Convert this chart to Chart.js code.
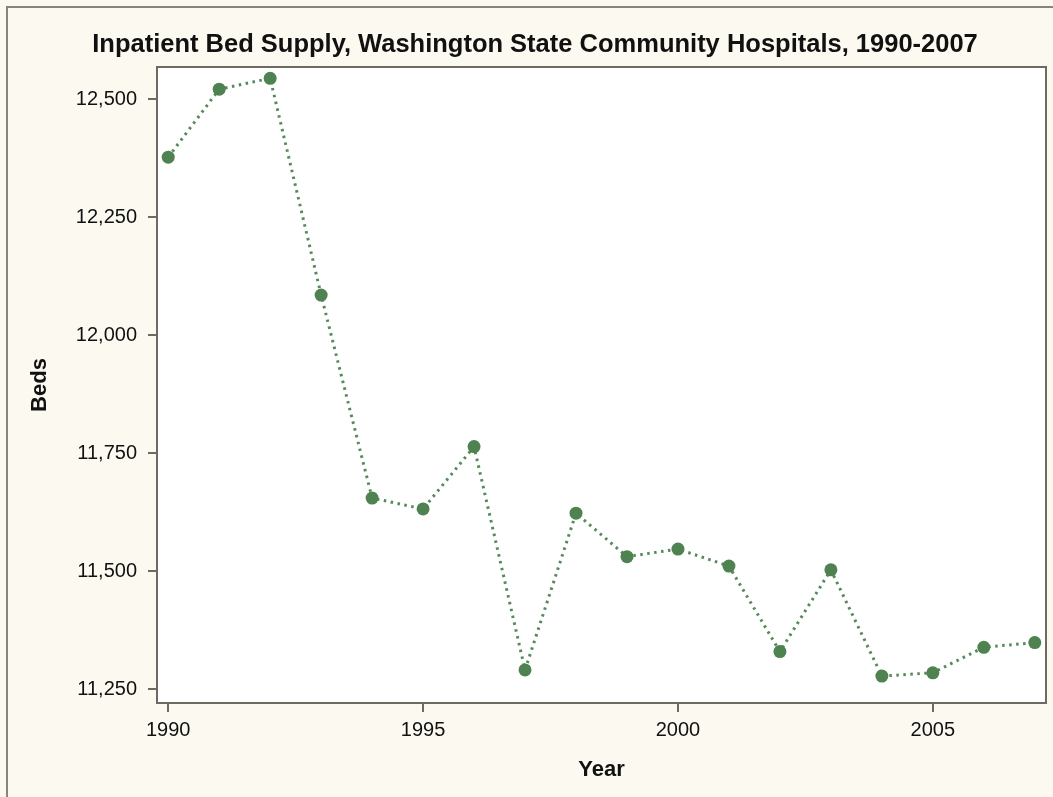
<!DOCTYPE html>
<html>
<head>
<meta charset="utf-8">
<title>Inpatient Bed Supply</title>
<script src="https://cdn.jsdelivr.net/npm/chart.js@4.4.1/dist/chart.umd.min.js"></script>
<style>
    html, body { margin: 0; padding: 0; overflow: hidden; background: #fcf9f1; }
    #frame { position: absolute; left: 6px; top: 6px; width: 1100px; height: 900px; border: 2px solid #87847c; }
    #wrap { position: absolute; left: 0; top: 0; width: 1053px; height: 797px; }
</style>
</head>
<body>
<div id="frame"></div>
<div id="wrap"><canvas id="myChart" width="1053" height="797"></canvas></div>
<script>
// data
const years = [1990, 1991, 1992, 1993, 1994, 1995, 1996, 1997, 1998, 1999, 2000, 2001, 2002, 2003, 2004, 2005, 2006, 2007];
const beds = [12377, 12521, 12544, 12085, 11655, 11632, 11764, 11291, 11623, 11531, 11547, 11511, 11330, 11503, 11278, 11285, 11339, 11349];
const yearTicks = [1990, 1995, 2000, 2005];
const bedTicks = [11250, 11500, 11750, 12000, 12250, 12500];

const axisColor = '#6d6a62';
const textColor = '#111111';

// white plot area with a box round it
const plotBox = {
    id: 'plotBox',
    beforeDatasetsDraw: function(chart) {
        const {ctx, chartArea: a} = chart;
        ctx.save();
        ctx.fillStyle = '#ffffff';
        ctx.fillRect(a.left, a.top, a.right - a.left, a.bottom - a.top);
        ctx.strokeStyle = axisColor;
        ctx.lineWidth = 2;
        ctx.strokeRect(a.left, a.top, a.right - a.left, a.bottom - a.top);
        ctx.restore();
    }
};

let apps = {
    points: function() {
        return years.map((y, i) => ({x: y, y: beds[i]}));
    },
    chartBeds: function() {
        const ctx = document.getElementById('myChart');
        return new Chart(ctx, {
            type: 'line',
            data: {
                datasets: [{
                    data: apps.points(),
                    borderColor: '#568a58',
                    borderWidth: 3,
                    borderDash: [2.5, 4.5],
                    pointBackgroundColor: '#4e8250',
                    pointBorderColor: '#4e8250',
                    pointRadius: 6.5,
                    pointBorderWidth: 0,
                    tension: 0,
                    fill: false
                }]
            },
            options: {
                responsive: false,
                animation: false,
                layout: { padding: { left: 24, right: 7, top: 0, bottom: 0 } },
                plugins: {
                    legend: { display: false },
                    tooltip: { enabled: false },
                    title: {
                        display: true,
                        text: 'Inpatient Bed Supply, Washington State Community Hospitals, 1990-2007',
                        color: textColor,
                        font: { family: 'Liberation Sans, Arial, sans-serif', size: 25.5, weight: 'bold', lineHeight: 1 },
                        padding: { top: 32, bottom: 9.5 }
                    }
                },
                scales: {
                    x: {
                        type: 'linear',
                        min: 1989.78,
                        max: 2007.22,
                        afterBuildTicks: scale => { scale.ticks = yearTicks.map(v => ({value: v})); },
                        afterFit: scale => {
                            scale.height = 94;
                            scale.paddingLeft = 0; scale.paddingRight = 0;
                        },
                        border: { display: false },
                        grid: { drawOnChartArea: false, drawTicks: true, tickLength: 9, color: axisColor, lineWidth: 2 },
                        ticks: {
                            color: textColor,
                            padding: 6,
                            maxRotation: 0,
                            font: { family: 'Liberation Sans, Arial, sans-serif', size: 20 },
                            callback: v => String(v)
                        },
                        title: {
                            display: true,
                            text: 'Year',
                            color: textColor,
                            font: { family: 'Liberation Sans, Arial, sans-serif', size: 22, weight: 'bold', lineHeight: 1 },
                            padding: { top: 0, bottom: 16 }
                        }
                    },
                    y: {
                        min: 11221,
                        max: 12568,
                        afterBuildTicks: scale => { scale.ticks = bedTicks.map(v => ({value: v})); },
                        afterFit: scale => {
                            scale.width = 133;
                            scale.paddingTop = 0; scale.paddingBottom = 0;
                        },
                        border: { display: false },
                        grid: { drawOnChartArea: false, drawTicks: true, tickLength: 9, color: axisColor, lineWidth: 2 },
                        ticks: {
                            color: textColor,
                            padding: 11,
                            font: { family: 'Liberation Sans, Arial, sans-serif', size: 20 },
                            callback: v => v.toLocaleString('en-US')
                        },
                        title: {
                            display: true,
                            text: 'Beds',
                            color: textColor,
                            font: { family: 'Liberation Sans, Arial, sans-serif', size: 22, weight: 'bold', lineHeight: 1 },
                            padding: { top: 5, bottom: 0 }
                        }
                    }
                }
            },
            plugins: [plotBox]
        });
    }
};

apps.chartBeds();
</script>
</body>
</html>
